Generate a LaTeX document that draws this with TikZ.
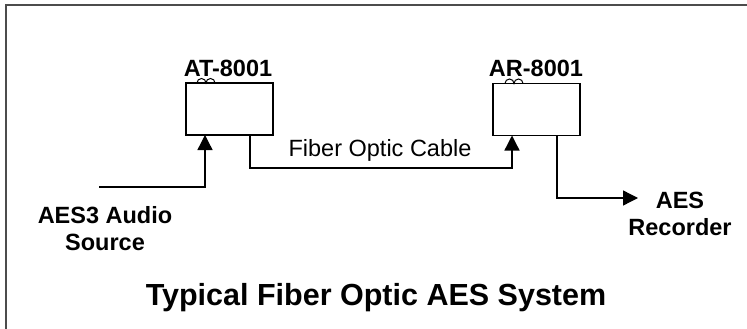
\documentclass[tikz,border=0pt]{standalone}
\usepackage{fontspec}
\setmainfont{Liberation Sans}
\usetikzlibrary{arrows.meta}
\begin{document}
\begin{tikzpicture}[x=1pt,y=-1pt,
  unitbox/.style={draw,line width=1.3pt,minimum width=87pt,minimum height=52pt,inner sep=0pt,outer sep=0pt},
  wire/.style={line width=1.3pt},
  arr/.style={wire,-{Triangle[length=15pt,width=15pt]}},
  loopline/.style={line width=1pt},
  lbl/.style={font=\fontsize{23.5}{27}\selectfont\bfseries,inner sep=0pt,align=center},
  plain/.style={font=\fontsize{23.5}{27}\selectfont,inner sep=0pt},
  ttl/.style={font=\fontsize{30.5}{34}\selectfont\bfseries,inner sep=0pt}]
\useasboundingbox (0,0) rectangle (747,329);
% frame
\draw[line width=1.5pt,black!70] (747,5) -- (6,5) -- (6,329);
% units
\node[unitbox] (AT) at (229.5,109) {};
\node[unitbox] (AR) at (536.5,109.5) {};
\node[lbl,anchor=base] (ATl) at (228,77) {AT-8001};
\node[lbl,anchor=base] (ARl) at (536,77) {AR-8001};
% loops on top edges
\draw[loopline] ([xshift=11pt]AT.north west) arc[start angle=180,end angle=0,radius=4.5pt]
  arc[start angle=180,end angle=0,radius=4.5pt];
\draw[loopline] ([xshift=12pt]AR.north west) arc[start angle=180,end angle=0,radius=4.5pt]
  arc[start angle=180,end angle=0,radius=4.5pt];
% source
\coordinate (src) at (99,187);
\draw[arr] (src) -| ([xshift=19pt]AT.south west);
\node[lbl] (srcl) at (105,229) {AES3 Audio\\Source};
% cable
\draw[arr] ([xshift=64pt]AT.south west) |- (380,168) -| ([xshift=19pt]AR.south west);
\node[plain,anchor=base] (cab) at (380,156) {Fiber Optic Cable};
% recorder
\coordinate (rec) at (638,198);
\draw[arr] ([xshift=64pt]AR.south west) |- (rec);
\node[lbl] (recl) at (680,214) {AES\\Recorder};
% title
\node[ttl,anchor=base] (title) at (376,305) {Typical Fiber Optic AES System};
\end{tikzpicture}
\end{document}
